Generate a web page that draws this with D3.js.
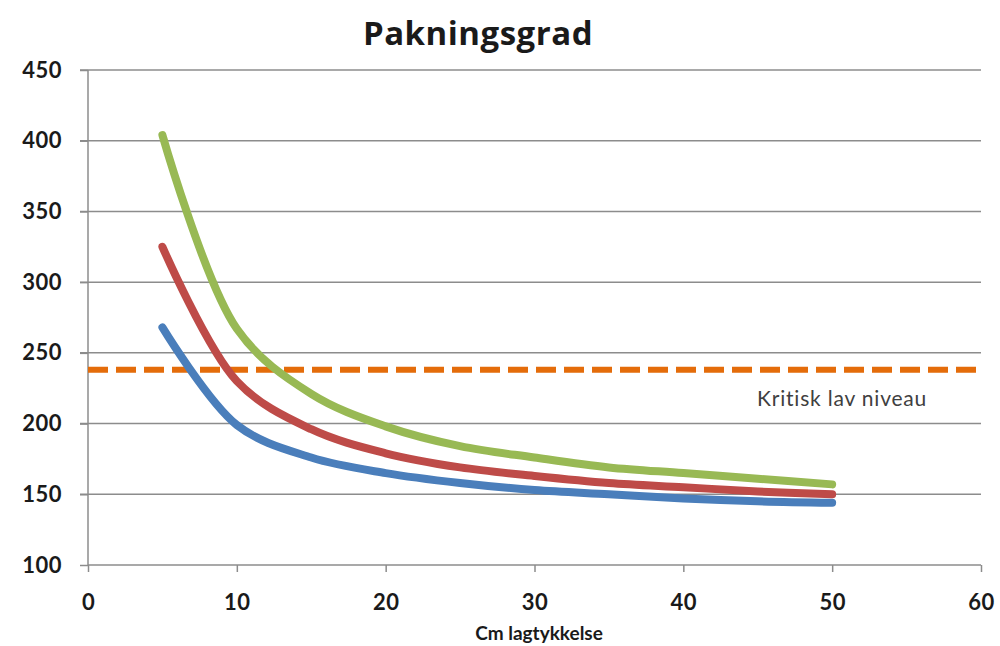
<!DOCTYPE html>
<html><head><meta charset="utf-8">
<script src="https://cdn.jsdelivr.net/npm/d3@7"></script>
<style>body{margin:0;background:#fff}</style>
</head><body>
<svg id="c" width="1000" height="646"></svg>
<script>
const xValues = [5, 10, 15, 20, 25, 30, 35, 40, 45, 50];
const greenValues = [404, 267, 221, 198, 184, 176, 169, 165, 161, 157];
const redValues   = [325, 230, 196, 179, 169, 163, 158, 155, 152, 150];
const blueValues  = [268, 199, 176, 165, 158, 153, 150, 147, 145, 144];
const criticalLevel = 238;
const criticalLabel = "Kritisk lav niveau";
const xTicks = [0, 10, 20, 30, 40, 50, 60];
const yTicks = [100, 150, 200, 250, 300, 350, 400, 450];
const title = "Pakningsgrad";
const xTitle = "Cm lagtykkelse";

const svg = d3.select("#c");
const F = "Lato, 'Open Sans', sans-serif";
const x = d3.scaleLinear().domain([0, 60]).range([88, 981]);
const y = d3.scaleLinear().domain([100, 450]).range([565, 70]);

// gridlines
svg.append("g").selectAll("line").data(yTicks.filter(d => d > 100)).join("line")
  .attr("x1", x(0) - 8).attr("x2", x(60)).attr("y1", d => y(d)).attr("y2", d => y(d))
  .attr("stroke", "#8c8c8c").attr("stroke-width", 1.5);

// y axis
const ya = svg.append("g").attr("transform", `translate(${x(0)},0)`)
  .call(d3.axisLeft(y).tickValues(yTicks).tickSize(8).tickPadding(18));
ya.select(".domain").attr("stroke", "#8c8c8c").attr("stroke-width", 1.5).attr("d", `M0,${y(450)}V${y(100)}`);
ya.selectAll(".tick line").attr("stroke", "#8c8c8c").attr("stroke-width", 1.5);
ya.selectAll(".tick text").attr("font-family", F).attr("font-weight", "bold")
  .attr("font-size", 22).attr("letter-spacing", 0.5).attr("fill", "#1a1a1a");

// x axis
const xa = svg.append("g").attr("transform", `translate(0,${y(100)})`)
  .call(d3.axisBottom(x).tickValues(xTicks).tickSize(7).tickPadding(22));
xa.select(".domain").attr("stroke", "#8c8c8c").attr("stroke-width", 1.5).attr("d", `M${x(0)},0H${x(60)}`);
xa.selectAll(".tick line").attr("stroke", "#8c8c8c").attr("stroke-width", 1.5);
xa.selectAll(".tick text").attr("font-family", F).attr("font-weight", "bold")
  .attr("font-size", 22).attr("letter-spacing", 0.5).attr("fill", "#1a1a1a");

// critical line
svg.append("line").attr("x1", x(0)).attr("x2", x(60))
  .attr("y1", y(criticalLevel)).attr("y2", y(criticalLevel))
  .attr("stroke", "#E46C0A").attr("stroke-width", 6).attr("stroke-dasharray", "20,8");

// series
const line = d3.line().x((d, i) => x(xValues[i])).y(d => y(d)).curve(d3.curveCatmullRom.alpha(0.5));
const series = [
  {v: blueValues, c: "#4A7EBB"},
  {v: redValues, c: "#BE4B48"},
  {v: greenValues, c: "#98B954"}
];
svg.append("g").selectAll("path").data(series).join("path")
  .attr("d", d => line(d.v)).attr("fill", "none").attr("stroke", d => d.c)
  .attr("stroke-width", 8).attr("stroke-linecap", "round").attr("stroke-linejoin", "round");

// texts
svg.append("text").attr("x", 478).attr("y", 45).attr("text-anchor", "middle")
  .attr("font-family", "'Open Sans', Lato, sans-serif").attr("font-weight", "bold").attr("font-size", 33)
  .attr("letter-spacing", 0.5).attr("fill", "#1a1a1a").text(title);
svg.append("text").attr("x", 539).attr("y", 640).attr("text-anchor", "middle")
  .attr("font-family", F).attr("font-weight", "bold").attr("font-size", 19).attr("fill", "#1a1a1a").text(xTitle);
svg.append("text").attr("x", 757).attr("y", 406)
  .attr("font-family", F).attr("font-size", 21).attr("letter-spacing", 0.8).attr("fill", "#404040").text(criticalLabel);
</script>
</body></html>
